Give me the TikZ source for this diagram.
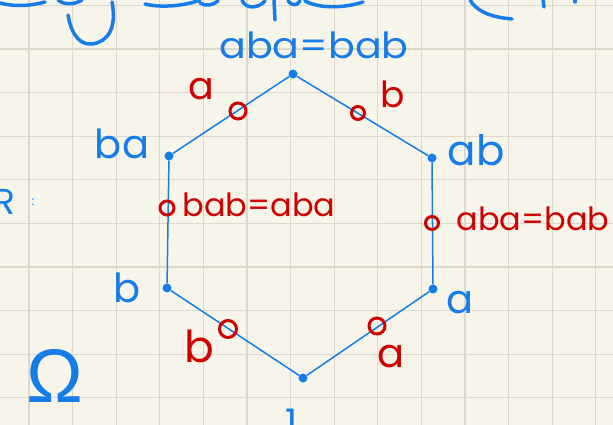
\documentclass[tikz,border=0pt]{standalone}
\usepackage{fontspec}
\setmainfont{Poppins}
\newfontfamily\greekf{Liberation Sans}
\definecolor{inkblue}{RGB}{22,124,232}
\definecolor{inkred}{RGB}{206,0,0}
\definecolor{paper}{RGB}{247,245,234}
\definecolor{gridc}{RGB}{220,216,203}
\tikzset{
 vdot/.style={circle,fill=inkblue,inner sep=0pt,minimum size=9pt},
 hexedge/.style={draw=inkblue,line width=1.5pt},
 redo/.style={circle,draw=inkred,line width=3pt,inner sep=0pt},
 blab/.style={text=inkblue,font=\fontsize{34}{34}\selectfont,inner sep=0pt,anchor=base},
 rlab/.style={text=inkred,font=\fontsize{32}{32}\selectfont,inner sep=0pt,anchor=base},
 fsz/.style={font=\fontsize{#1}{#1}\selectfont},
 frag/.style={draw=inkblue,line width=3.5pt,line cap=round},
 gridline/.style={draw=gridc,line width=1.2pt},
}
\begin{document}
\begin{tikzpicture}[x=1pt,y=-1pt]
\useasboundingbox (0,0) rectangle (613,425);
\fill[paper] (0,0) rectangle (613,425);
\foreach \gx in {0,...,13} \draw[gridline] ({29+43.6*\gx},0) -- ++(0,425);
\foreach \gy in {0,...,9} \draw[gridline] (0,{5.4+43.6*\gy}) -- ++(613,0);

% cut-off handwriting at the top edge
\draw[frag] (0,3) .. controls (15,7) and (30,6) .. (45,2);
\draw[frag] (58,0) .. controls (64,5) and (74,5) .. (82,0);
\draw[frag] (68,15) .. controls (72,38) and (82,45) .. (92,44) .. controls (108,42) and (117,28) .. (112,2);
\draw[frag] (145,4) .. controls (160,8) and (185,6) .. (200,0);
\draw[frag] (200,3) .. controls (206,7) and (213,5) .. (218,1);
\draw[frag] (242,0) .. controls (245,9) and (258,9) .. (265,1);
\draw[frag] (274,0) -- (275,20);
\draw[frag] (288,1) .. controls (292,6) and (297,6) .. (300,1);
\draw[frag] (305,1) .. controls (320,9) and (345,8) .. (363,2);
\draw[frag] (470,0) .. controls (476,10) and (488,17) .. (512,19);
\draw[frag] (543,0) -- (544,7);
\draw[frag] (575,0) -- (575,2);

% left margin fragments
\node[blab, fsz=36, anchor=base east] (rr) at (16,214) {R};
\node[text=inkblue,font=\fontsize{12}{12}\selectfont,inner sep=0pt] (colon) at (33,202) {:};
\node[text=inkblue,font=\greekf\fontsize{76}{76}\selectfont,inner sep=0pt] (omega) at (55,376) {Ω};

% hexagon vertices
\node[vdot] (top) at (293,74) {};
\node[vdot] (ul) at (169,156) {};
\node[vdot] (ur) at (432,158) {};
\node[vdot] (ll) at (167,288) {};
\node[vdot] (lr) at (433,289) {};
\node[vdot] (bot) at (303,378) {};
\draw[hexedge] (top) -- (ul);
\draw[hexedge] (ul) -- (ll);
\draw[hexedge] (ll) -- (bot);
\draw[hexedge] (bot) -- (lr);
\draw[hexedge] (lr) -- (ur);
\draw[hexedge] (ur) -- (top);

% red small circles on edges
\node[redo, minimum size=16pt] (o1) at (238,111) {};
\node[redo, minimum size=13pt] (o2) at (358,113) {};
\node[redo, minimum size=14pt] (o3) at (167,208) {};
\node[redo, minimum size=13pt] (o4) at (432,223) {};
\node[redo, minimum size=17pt] (o5) at (228,329) {};
\node[redo, minimum size=16pt] (o6) at (377,326) {};

% blue vertex labels
\node[blab, fsz=36] (ltop) at (314,59) {\scalebox{1.1}[1]{aba=bab}};
\node[blab, fsz=40] (lul) at (122,158) {ba};
\node[blab, fsz=42] (lur) at (476,165) {ab};
\node[blab, fsz=40] (lll) at (127,302) {b};
\node[blab, fsz=40] (llr) at (460,313) {a};
\node[blab, fsz=38] (lbot) at (292,436) {1};

% red edge labels
\node[rlab, fsz=38] (r1) at (201,100) {a};
\node[rlab, fsz=36] (r2) at (393,108) {b};
\node[rlab] (r3) at (259,216) {bab=aba};
\node[rlab] (r4) at (533,230) {aba=bab};
\node[rlab, fsz=44] (r5) at (199,362) {b};
\node[rlab, fsz=40] (r6) at (391,367) {a};
\end{tikzpicture}
\end{document}
